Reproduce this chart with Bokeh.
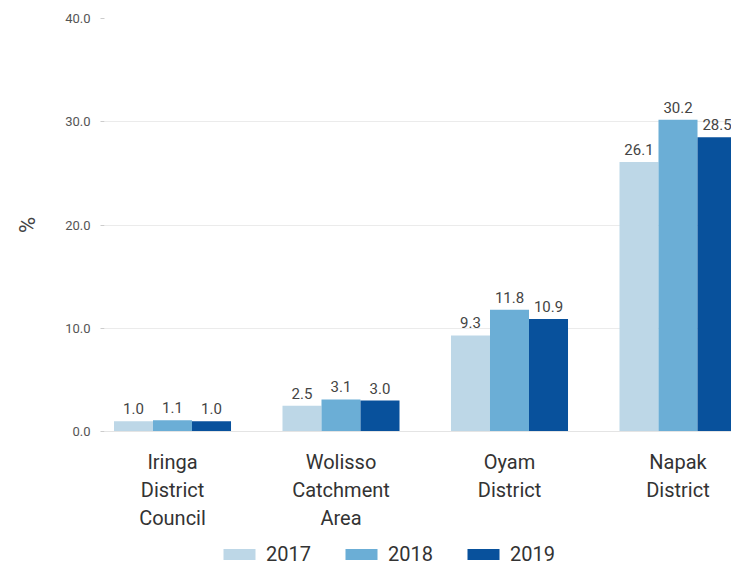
from bokeh.plotting import figure
from bokeh.layouts import column
from bokeh.models import ColumnDataSource, Range1d, FixedTicker, Legend, LegendItem, NumeralTickFormatter
from bokeh.embed import file_html
from bokeh.resources import INLINE
from bokeh.core.properties import value

# ---- data ----
categories = ["Iringa\nDistrict\nCouncil", "Wolisso\nCatchment\nArea", "Oyam\nDistrict", "Napak\nDistrict"]
years = ["2017", "2018", "2019"]
v2017 = [1.0, 2.5, 9.3, 26.1]
v2018 = [1.1, 3.1, 11.8, 30.2]
v2019 = [1.0, 3.0, 10.9, 28.5]
colors = ["#bdd7e7", "#6baed6", "#08519c"]
y_ticks = [0, 10, 20, 30, 40]

FONT = "Roboto"
BAR_W = 0.2315
offsets = [-BAR_W, 0.0, BAR_W]
series = [v2017, v2018, v2019]

pos = list(range(len(categories)))
data = {"pos": pos}
for yr, vals, off in zip(years, series, offsets):
    data["x" + yr] = [p_ + off for p_ in pos]
    data["v" + yr] = vals
    data["t" + yr] = ["%.1f" % v for v in vals]
src = ColumnDataSource(data)

p = figure(width=731, height=534, output_backend="svg", toolbar_location=None,
           x_range=Range1d(-0.4036, 3.3175), y_range=Range1d(0, 40),
           min_border_left=104, min_border_right=0, min_border_top=18, min_border_bottom=103)
p.outline_line_color = None
p.background_fill_color = "white"
p.border_fill_color = "white"

for yr, col in zip(years, colors):
    p.vbar(x="x" + yr, top="v" + yr, width=BAR_W, source=src, fill_color=col, line_color=None)
    p.text(x="x" + yr, y="v" + yr, text="t" + yr, source=src, text_align="center",
           text_baseline="bottom", y_offset=-7, text_font=value(FONT),
           text_font_size="15px", text_color="#444444")

# y axis
ya = p.yaxis[0]
ya.ticker = FixedTicker(ticks=y_ticks)
ya.formatter = NumeralTickFormatter(format="0.0")
ya.axis_line_color = None
ya.major_tick_out = 4
ya.major_tick_in = 0
ya.major_tick_line_color = "#cccccc"
ya.minor_tick_line_color = None
ya.major_label_text_font = FONT
ya.major_label_text_font_size = "13px"
ya.major_label_text_color = "#555555"
ya.major_label_standoff = 10
ya.axis_label = "%"
ya.axis_label_text_font = FONT
ya.axis_label_text_font_size = "22px"
ya.axis_label_text_font_style = "normal"
ya.axis_label_text_color = "#444444"
ya.axis_label_standoff = 22

# x axis
xa = p.xaxis[0]
xa.ticker = FixedTicker(ticks=pos)
xa.major_label_overrides = {i: c for i, c in zip(pos, categories)}
xa.axis_line_color = "#e4e4e4"
xa.major_tick_line_color = None
xa.minor_tick_line_color = None
xa.major_label_standoff = 12
xa.major_label_text_font = FONT
xa.major_label_text_font_size = "20px"
xa.major_label_text_color = "#333333"
xa.major_label_text_line_height = 1.18

p.xgrid.grid_line_color = None
p.ygrid.grid_line_color = "#ebebeb"
p.ygrid.ticker = FixedTicker(ticks=y_ticks)

# legend strip (its bars lie outside its view; only the legend shows)
lg = figure(width=731, height=32, output_backend="svg", toolbar_location=None,
            x_range=Range1d(100, 101), y_range=Range1d(100, 101),
            x_axis_location=None, y_axis_location=None,
            min_border_left=0, min_border_right=0, min_border_top=0, min_border_bottom=0)
lg.outline_line_color = None
lg.xgrid.grid_line_color = None
lg.ygrid.grid_line_color = None
items = []
for yr, col in zip(years, colors):
    r = lg.vbar(x="x" + yr, top="v" + yr, width=BAR_W, source=src, fill_color=col, line_color=None)
    items.append(LegendItem(label=yr, renderers=[r]))
legend = Legend(items=items, orientation="horizontal", location=(115, 0),
                glyph_width=40, glyph_height=14, label_standoff=7, spacing=30,
                padding=0, margin=0, border_line_color=None, background_fill_alpha=0,
                label_text_font=FONT, label_text_font_size="20px", label_text_color="#333333")
lg.add_layout(legend, "center")

layout = column(p, lg, spacing=0)
open("out.html", "w").write(file_html(layout, INLINE))
